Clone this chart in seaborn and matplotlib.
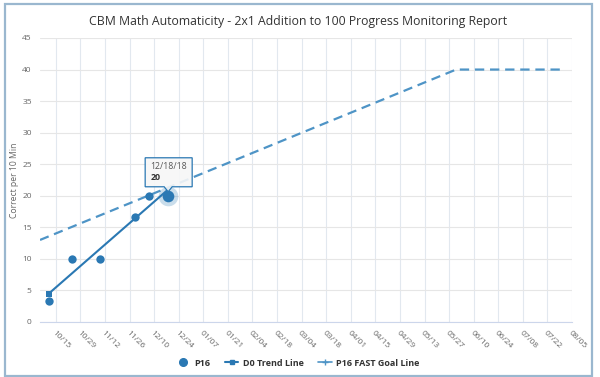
import numpy as np
import pandas as pd
import matplotlib
matplotlib.use("Agg")
import matplotlib.pyplot as plt
import matplotlib.dates as mdates
from matplotlib.lines import Line2D
from matplotlib.patches import Rectangle, Polygon
import seaborn as sns

# ---------------- data ----------------
title = "CBM Math Automaticity - 2x1 Addition to 100 Progress Monitoring Report"
y_label = "Correct per 10 Min"

obs_dates = ["2018-10-11", "2018-10-24", "2018-11-09", "2018-11-29", "2018-12-07", "2018-12-18"]
obs_values = [3.3, 10, 10, 16.7, 20, 20]

trend_dates = ["2018-10-11", "2018-12-18"]
trend_values = [4.5, 21]

goal_dates = ["2018-10-06", "2019-05-31", "2019-07-30"]
goal_values = [13, 40, 40]

series_names = ["P16", "D0 Trend Line", "P16 FAST Goal Line"]

x_start, x_end = "2018-10-06", "2019-08-05"
tick_start = "2018-10-15"
y_max = 45

# ---------------- style ----------------
sns.set_style("white")
plt.rcParams['font.family'] = ['Open Sans', 'DejaVu Sans']

W, H = 600, 377
fig = plt.figure(figsize=(W / 100, H / 100), dpi=100)
ax = fig.add_axes([40 / W, 1 - 322 / H, (572 - 40) / W, (322 - 38) / H])

POINT = '#2a78b3'
GOAL = '#4e94c6'

obs = pd.DataFrame({'date': pd.to_datetime(obs_dates), 'value': obs_values})
trend = pd.DataFrame({'date': pd.to_datetime(trend_dates), 'value': trend_values})
goal = pd.DataFrame({'date': pd.to_datetime(goal_dates), 'value': goal_values})

sns.lineplot(data=goal, x='date', y='value', ax=ax, color=GOAL, lw=1.6,
             linestyle=(0, (4.2, 2.6)), zorder=3)
sns.lineplot(data=trend, x='date', y='value', ax=ax, color=POINT, lw=1.5,
             marker='s', markersize=4.2, markevery=[0], markeredgewidth=0, zorder=4)
sns.scatterplot(data=obs.iloc[:-1], x='date', y='value', ax=ax, color=POINT,
                s=36, linewidth=0, zorder=5)
# hovered point
hx = mdates.date2num(obs['date'].iloc[-1])
hy = obs['value'].iloc[-1]
ax.scatter([hx], [hy], s=200, color=POINT, alpha=0.25, linewidth=0, zorder=5)
ax.scatter([hx], [hy], s=70, color=POINT, linewidth=0, zorder=6)

# axes
ax.set_xlim(pd.Timestamp(x_start), pd.Timestamp(x_end))
ax.set_ylim(0, y_max)
ax.set_yticks(np.arange(0, y_max + 1, 5))
ticks = pd.date_range(tick_start, x_end, freq='14D')
ax.set_xticks(ticks)
ax.xaxis.set_major_formatter(mdates.DateFormatter('%m/%d'))
ax.set_xlabel('')
ax.set_ylabel('')

ax.grid(True, axis='y', color='#e6e6e6', lw=0.8)
ax.grid(True, axis='x', color='#e2e8ef', lw=0.8)
for s in ['top', 'right', 'left']:
    ax.spines[s].set_visible(False)
ax.spines['bottom'].set_color('#ccd6eb')
ax.spines['bottom'].set_linewidth(0.8)

ax.tick_params(axis='y', length=0, labelsize=6, labelcolor='#666666', pad=6)
ax.tick_params(axis='x', length=4, width=0.8, color='#ccd6eb', labelsize=6,
               labelcolor='#666666', pad=1.5)
for lbl in ax.get_xticklabels():
    lbl.set_rotation(-45)
    lbl.set_ha('left')
    lbl.set_va('top')
    lbl.set_rotation_mode('anchor')

# title & y label
fig.text(298 / W, 1 - 22 / H, title, ha='center', va='center', fontsize=8.8, color='#333333')
fig.text(15 / W, 1 - 180 / H, y_label, ha='center', va='center', rotation=90,
         fontsize=6.2, color='#666666')

# legend
handles = [
    Line2D([], [], color=POINT, marker='o', linestyle='none', markersize=5.5),
    Line2D([], [], color=POINT, marker='s', lw=1.5, markersize=3.5),
    Line2D([], [], color=GOAL, marker='+', lw=1.2, markersize=4),
]
leg = fig.legend(handles, series_names, loc='center', bbox_to_anchor=(298 / W, 1 - 363 / H),
                 ncol=3, frameon=False, handlelength=1.5, handletextpad=0.5,
                 columnspacing=1.6, prop={'size': 6.5, 'weight': 'bold'})
for t in leg.get_texts():
    t.set_color('#333333')

# tooltip
fig.canvas.draw()
px, py = ax.transData.transform((hx, hy))
def fr(dx, dy):
    return ((px + dx) / W, (py + dy) / H)
box = [fr(-23, 8 + 5), fr(-5, 8 + 5), fr(0, 4), fr(5, 8 + 5), fr(24, 8 + 5),
       fr(24, 38), fr(-23, 38)]
box = [fr(-23, 9), fr(-4, 9), fr(0, 4), fr(4, 9), fr(24, 9), fr(24, 38), fr(-23, 38)]
fig.add_artist(Polygon(box, closed=True, transform=fig.transFigure,
                       facecolor=(0.97, 0.97, 0.97, 0.9), edgecolor=POINT, lw=0.9, zorder=10))
tx, ty = fr(-18, 29)
fig.text(tx, ty, pd.Timestamp(obs_dates[-1]).strftime('%m/%d/%y'), fontsize=6.3,
         color='#555555', va='center', ha='left', zorder=11)
tx, ty = fr(-18, 18)
fig.text(tx, ty, f"{obs_values[-1]:g}", fontsize=6.3, fontweight='bold',
         color='#333333', va='center', ha='left', zorder=11)

# outer frame
fig.add_artist(Rectangle((5 / W, 1 - 376 / H), (592 - 5) / W, (376 - 4) / H,
                         transform=fig.transFigure, fill=False, edgecolor='#9ab7cf', lw=1.6))

fig.savefig('out.png', dpi=100)
